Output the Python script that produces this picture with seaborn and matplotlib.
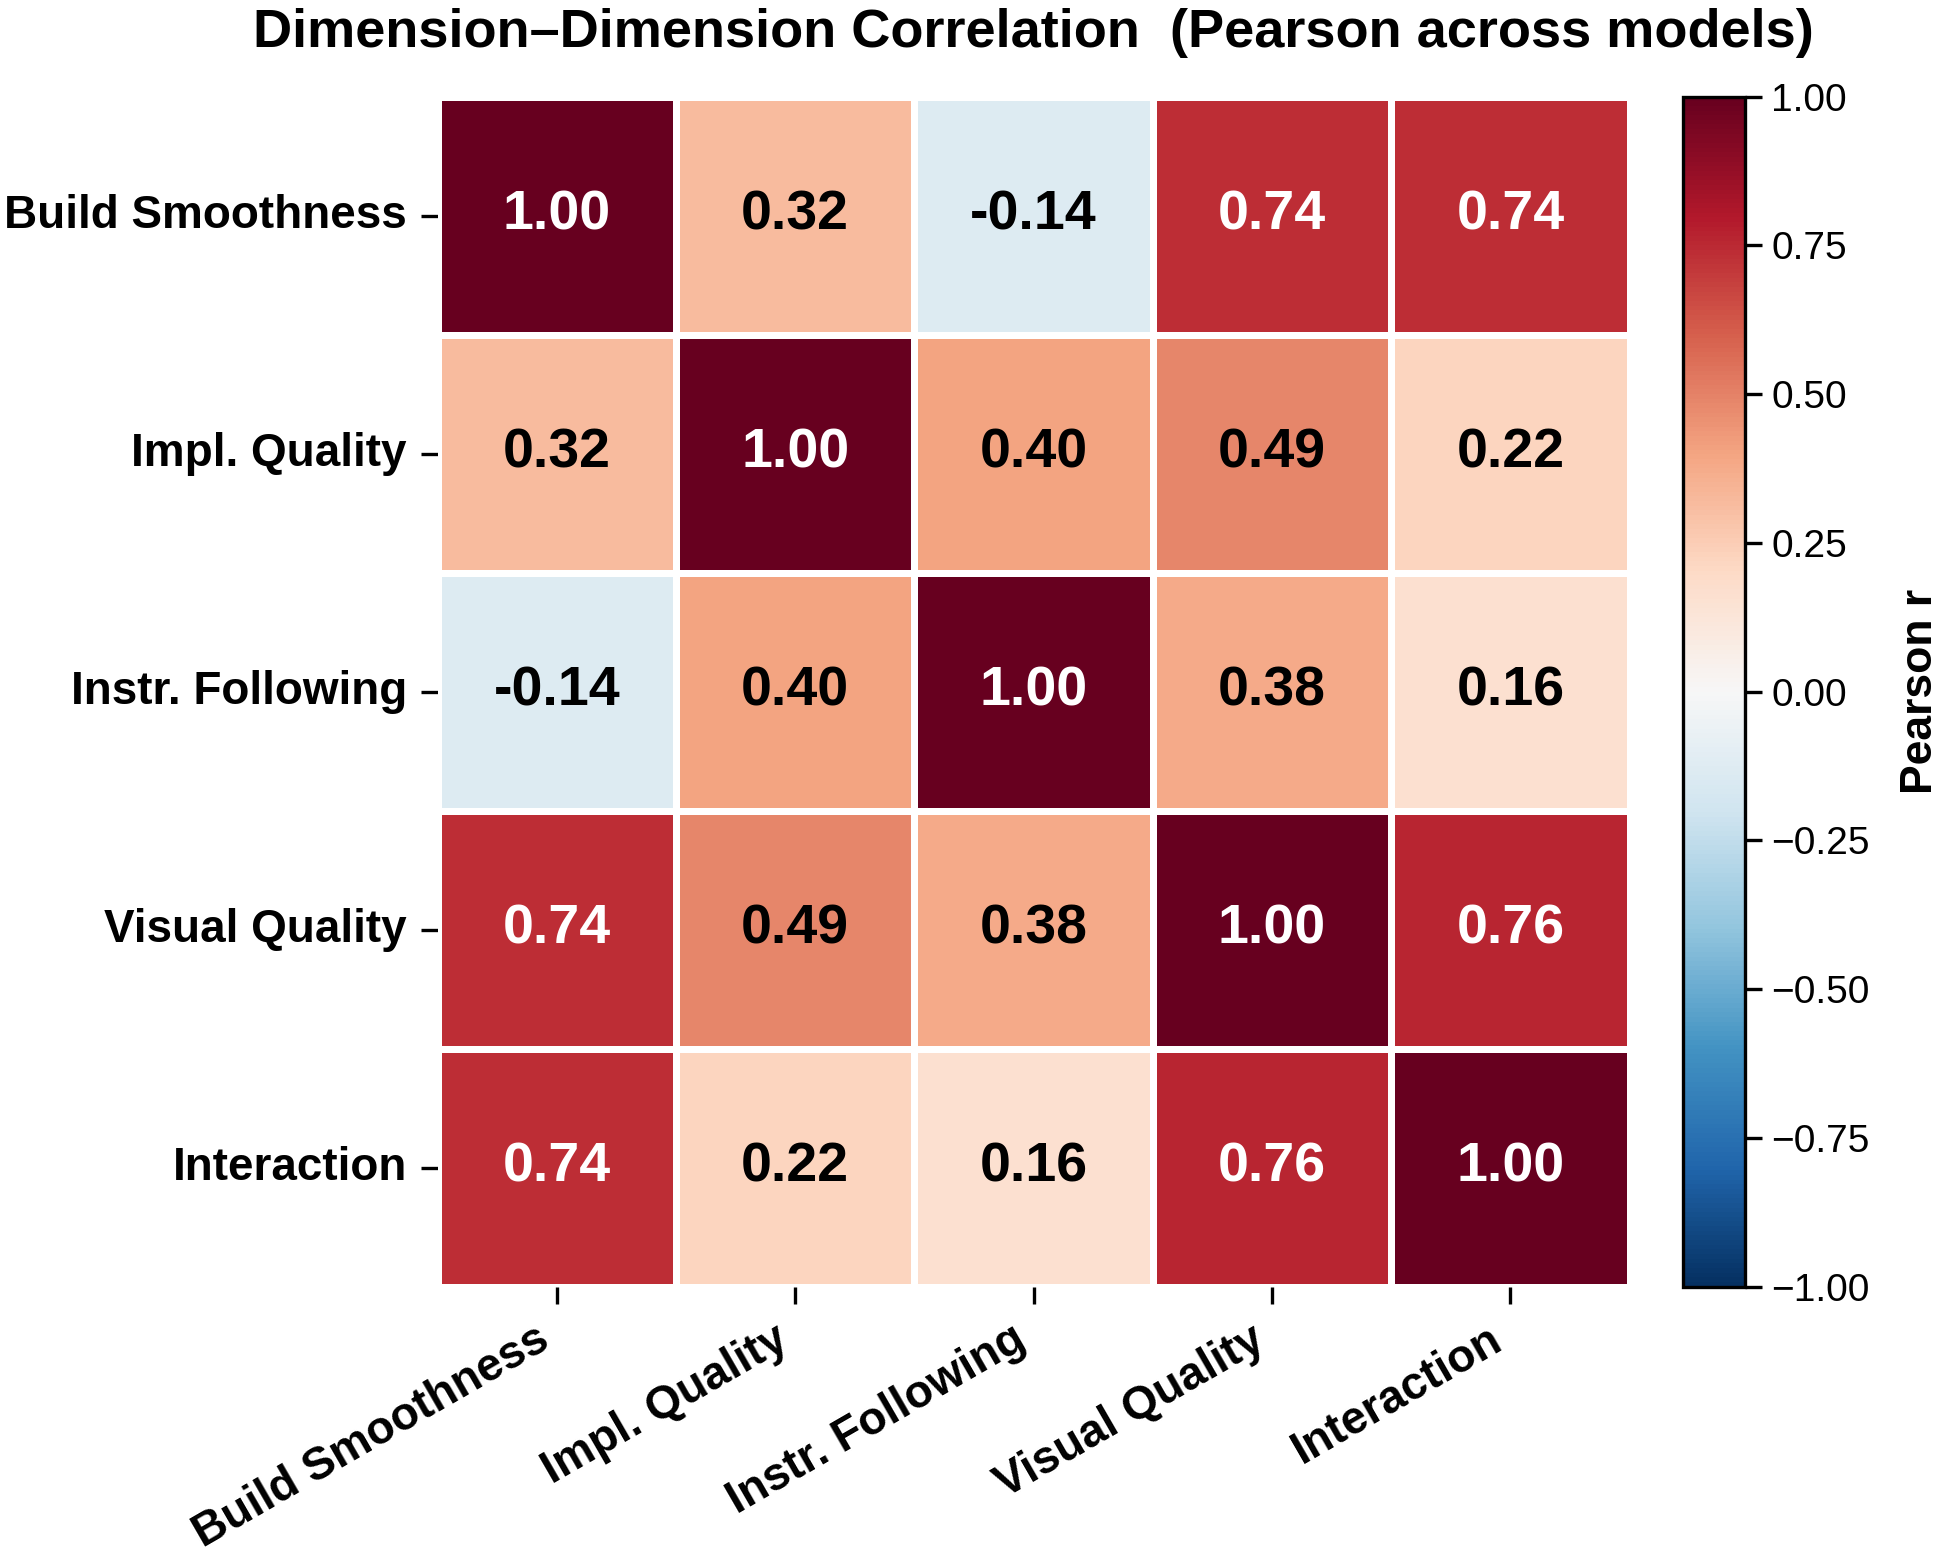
import numpy as np
import pandas as pd
import seaborn as sns
import matplotlib.pyplot as plt

sns.set_style("white", {"xtick.direction": "out", "ytick.direction": "out",
                        "xtick.major.size": 6, "ytick.major.size": 6,
                        "xtick.bottom": True, "ytick.left": True,
                        "text.color": "black", "axes.labelcolor": "black",
                        "xtick.color": "black", "ytick.color": "black"})
plt.rcParams['font.family'] = ['Liberation Sans', 'DejaVu Sans']

dims = ['Build Smoothness', 'Impl. Quality', 'Instr. Following',
        'Visual Quality', 'Interaction']

# pearson r between dimensions (across models)
build = [1.00, 0.32, -0.14, 0.74, 0.74]
impl = [0.32, 1.00, 0.40, 0.49, 0.22]
instr = [-0.14, 0.40, 1.00, 0.38, 0.16]
visual = [0.74, 0.49, 0.38, 1.00, 0.76]
inter = [0.74, 0.22, 0.16, 0.76, 1.00]

corr = pd.DataFrame([build, impl, instr, visual, inter], index=dims, columns=dims)

# %%
fig = plt.figure(figsize=(9.71, 7.8), dpi=200)
ax = fig.add_axes([0.2253, 0.1753, 0.6138, 0.7628])
cax = fig.add_axes([0.8666, 0.1753, 0.0319, 0.7628])

sns.heatmap(corr, ax=ax, cbar_ax=cax, cmap='RdBu_r', vmin=-1, vmax=1, center=0,
            annot=True, fmt='.2f', linewidths=2.5, linecolor='white',
            annot_kws={'fontsize': 20, 'fontweight': 'bold'})

# white text on strong cells, black elsewhere
vals = corr.values.flatten()
for t, v in zip(ax.texts, vals):
    t.set_color('white' if abs(v) > 0.6 else 'black')

ax.set_title('Dimension\u2013Dimension Correlation  (Pearson across models)',
             fontsize=19.5, fontweight='bold', pad=18)
ax.set_xticklabels(dims, rotation=30, ha='right', fontsize=16.5, fontweight='bold')
ax.set_yticklabels(dims, rotation=0, fontsize=16.5, fontweight='bold')
ax.tick_params(axis='both', length=6, width=1.2, color='black', pad=5)

cax.tick_params(labelsize=14, length=6, width=1.2)
cax.set_ylabel('Pearson r', fontsize=16, fontweight='bold', labelpad=11)
cax.set_yticks(np.arange(-1, 1.01, 0.25))
cbar = ax.collections[0].colorbar
cbar.outline.set_visible(True)
cbar.outline.set_edgecolor('black')
cbar.outline.set_linewidth(1.2)

plt.savefig('out.png', dpi=200)
